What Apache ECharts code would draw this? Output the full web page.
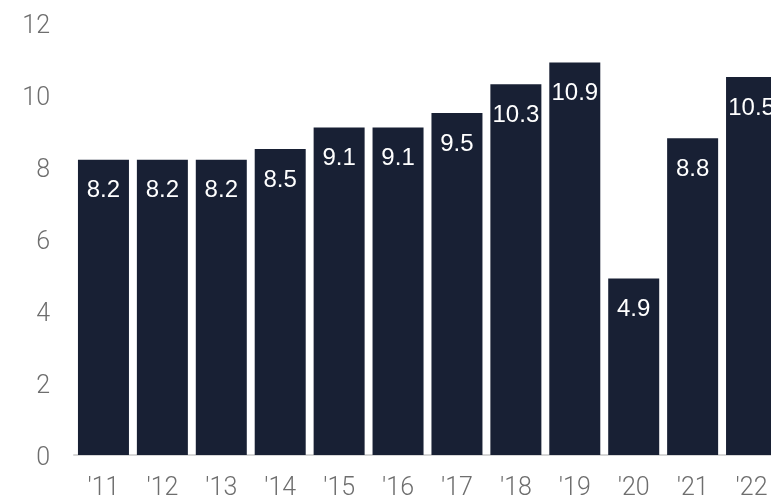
<!DOCTYPE html>
<html>
<head>
<meta charset="utf-8">
<script src="https://cdn.jsdelivr.net/npm/echarts@6/dist/echarts.min.js"></script>
<style>
  html, body { margin: 0; padding: 0; background: #fff; }
  #chart { width: 771px; height: 502px; }
</style>
</head>
<body>
<div id="chart"></div>
<script>
// years and values
var years = ["'11", "'12", "'13", "'14", "'15", "'16", "'17", "'18", "'19", "'20", "'21", "'22"];
var values = [8.2, 8.2, 8.2, 8.5, 9.1, 9.1, 9.5, 10.3, 10.9, 4.9, 8.8, 10.5];
var yTicks = [0, 2, 4, 6, 8, 10, 12];

var chart = echarts.init(document.getElementById('chart'));

var option = {
    animation: false,
    grid: {
        left: 74,
        top: 23,
        bottom: 47,
        width: 707,
        containLabel: false,
        outerBoundsMode: 'none'   // last bar runs off the right edge
    },
    xAxis: {
        type: 'category',
        data: years,
        axisTick: { show: false },
        axisLine: { show: true, lineStyle: { color: '#d6d6d6', width: 2 } },
        axisLabel: {
            margin: 21,
            fontFamily: 'Roboto',
            fontWeight: 300,
            fontSize: 25,
            color: '#6e6e6e'
        }
    },
    yAxis: {
        type: 'value',
        min: yTicks[0],
        max: yTicks[yTicks.length - 1],
        interval: 2,
        splitLine: { show: false },
        axisLine: { show: false },
        axisTick: { show: false },
        axisLabel: {
            margin: 24,
            verticalAlign: 'top',
            lineHeight: 7,   // nudges the numbers a few px below their tick
            fontFamily: 'Roboto',
            fontWeight: 300,
            fontSize: 25,
            color: '#6e6e6e'
        }
    },
    series: [{
        type: 'bar',
        data: values,
        barWidth: 51,
        itemStyle: { color: '#182034' },
        label: {
            show: true,
            position: 'insideTop',
            distance: 19,
            color: '#ffffff',
            fontFamily: 'Liberation Sans',
            fontSize: 24,
            formatter: function (p) { return p.value.toFixed(1); }
        }
    }]
};

chart.setOption(option);
</script>
</body>
</html>
